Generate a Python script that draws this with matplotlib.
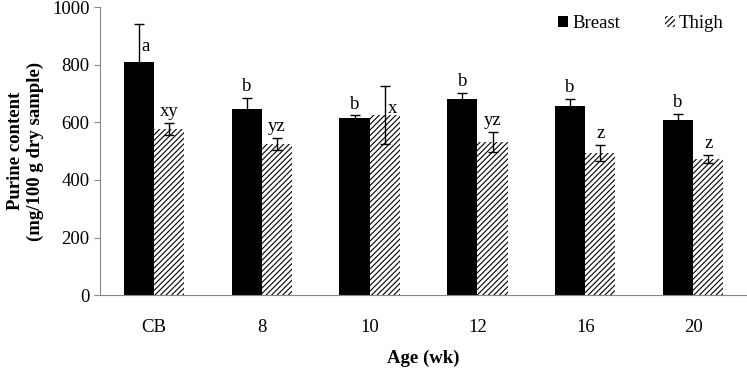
import numpy as np
import matplotlib
matplotlib.use("Agg")
import matplotlib.pyplot as plt

plt.rcParams["font.family"] = ["Liberation Serif", "DejaVu Serif"]
plt.rcParams["hatch.linewidth"] = 0.8

ages = ["CB", "8", "10", "12", "16", "20"]
breast = [809, 646, 614, 680, 656, 607]
breast_err = [132, 38, 10, 21, 25, 23]
thigh = [576, 524, 625, 532, 494, 472]
thigh_err = [21, 21, 101, 34, 27, 14]
breast_letters = ["a", "b", "b", "b", "b", "b"]
thigh_letters = ["xy", "yz", "x", "yz", "z", "z"]

x = np.arange(len(ages))
w = 0.28
fs = 13.5

fig = plt.figure(figsize=(7.47, 3.69), dpi=100)
ax = fig.add_axes([0.134, 0.2, 0.866, 0.781])

ax.bar(x - w / 2, breast, w, color="black", label="Breast",
       yerr=breast_err, error_kw=dict(ecolor="black", capsize=3.5, elinewidth=1, capthick=1))
ax.bar(x + w / 2, thigh, w, color="white", edgecolor="black", linewidth=0,
       hatch="//////", label="Thigh",
       yerr=thigh_err, error_kw=dict(ecolor="black", capsize=3.5, elinewidth=1, capthick=1))

# significance letters: long error bars get the letter beside the bar
for i in range(len(ages)):
    for xc, v, e, lab in [(x[i] - w / 2, breast[i], breast_err[i], breast_letters[i]),
                          (x[i] + w / 2, thigh[i], thigh_err[i], thigh_letters[i])]:
        if e > 90:
            ax.annotate(lab, xy=(xc, v + e), xytext=(2, -16), textcoords="offset points",
                        ha="left", va="center", fontsize=fs)
        else:
            ax.annotate(lab, xy=(xc, v + e), xytext=(0, 2), textcoords="offset points",
                        ha="center", va="bottom", fontsize=fs)

ax.set_xlim(-0.5, len(ages) - 0.5)
ax.set_ylim(0, 1000)
ax.set_yticks(range(0, 1001, 200))
ax.set_xticks(x)
ax.set_xticklabels(ages)
ax.tick_params(axis="x", length=0, pad=17, labelsize=fs)
ax.tick_params(axis="y", length=4, color="#888888", labelsize=fs)
for s in ["top", "right"]:
    ax.spines[s].set_visible(False)
for s in ["left", "bottom"]:
    ax.spines[s].set_color("#888888")

ax.set_xlabel("Age (wk)", fontweight="bold", fontsize=fs, labelpad=10)
ax.set_ylabel("Purine content\n(mg/100 g dry sample)", fontweight="bold", fontsize=fs,
              labelpad=6)

ax.legend(loc="upper right", bbox_to_anchor=(0.99, 1.03), ncol=2, frameon=False,
          fontsize=fs, handlelength=0.55, handleheight=0.55, handletextpad=0.2,
          columnspacing=2.4)

fig.savefig("out.png", dpi=100)
